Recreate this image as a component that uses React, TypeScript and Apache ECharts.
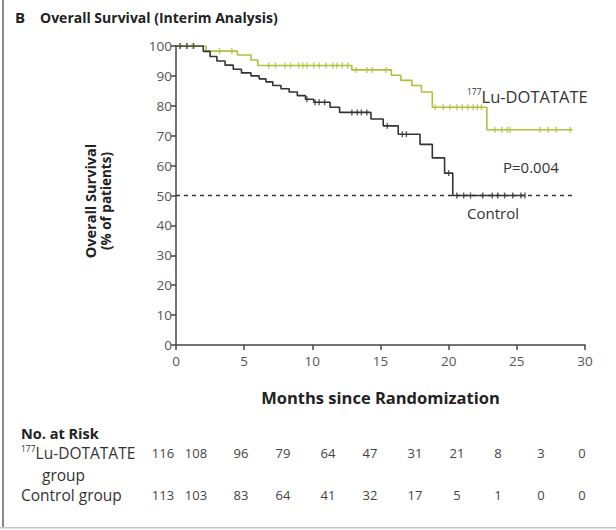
import React, { useEffect, useRef } from 'react';
import * as echarts from 'echarts';

// Kaplan-Meier steps: [month, survival % after the event]
const luSteps: [number, number][] = [
  [0, 100], [2.2, 98.3], [4.5, 97], [5.5, 95.3], [6.0, 93.5], [12.9, 92],
  [15.8, 90.2], [16.5, 88.5], [17.3, 86.8], [18.0, 84.6], [18.8, 79.5],
  [22.8, 72], [29.1, 72],
];
const controlSteps: [number, number][] = [
  [0, 100], [2.0, 98.2], [2.5, 96.5], [3.0, 95], [3.6, 93.6], [4.2, 92.2],
  [4.8, 91], [5.5, 90], [6.1, 89], [6.6, 88], [7.1, 86.8], [7.7, 85.7],
  [8.3, 84.6], [8.9, 83.4], [9.5, 82.2], [10.1, 81.2], [11.3, 79.5],
  [12.0, 77.8], [14.3, 75.6], [15.2, 73.3], [16.3, 70.5], [17.9, 67.1],
  [18.8, 62.6], [19.7, 57.5], [20.3, 50], [25.6, 50],
];
// censoring times (months)
const luCensor = [
  0.3, 0.8, 1.2, 3.2, 4.1, 6.8, 7.3, 8.0, 8.4, 9.0, 9.3, 9.6, 10.1, 10.5, 11.0,
  11.5, 11.8, 12.2, 12.6, 13.2, 14.0, 14.4, 15.4, 19.0, 19.6, 20.1, 20.6, 21.0,
  21.4, 21.8, 22.1, 22.4, 23.4, 23.9, 24.3, 24.5, 26.7, 27.3, 27.9, 28.9,
];
const controlCensor = [
  0.3, 0.8, 1.3, 9.6, 10.2, 10.5, 10.9, 12.9, 13.3, 13.6, 14.0, 15.5, 16.6,
  16.9, 20.0, 20.6, 21.1, 21.6, 22.5, 23.2, 23.6, 24.1, 24.7, 25.3, 25.6,
];
const medianRef: [number, number][] = [[0, 50], [29.1, 50]];

// number at risk
const riskLabelsLu = ['177', 'Lu-DOTATATE', 'group'];
const riskLabelControl = 'Control group';
const luRisk = [116, 108, 96, 79, 64, 47, 31, 21, 8, 3, 0];
const controlRisk = [113, 103, 83, 64, 41, 32, 17, 5, 1, 0, 0];

// layout constants (pixels)
const riskX = [163, 196, 241, 283, 328, 370, 415, 457, 498, 541, 582];

const GREEN = '#a9c23c';
const DARK = '#333333';
const FONT = '"Open Sans"';

function survivalAt(steps: [number, number][], t: number): number {
  let s = steps[0][1];
  for (const [tt, v] of steps) {
    if (tt <= t) s = v;
    else break;
  }
  return s;
}

export default function App() {
  const ref = useRef<HTMLDivElement>(null);
  useEffect(() => {
    if (!ref.current) return;
    const chart = echarts.init(ref.current, undefined, { renderer: 'svg' });
    const censorSymbol = { symbol: 'rect', symbolSize: [1.4, 6] as any };
    const supRich = (size: number) => ({
      s: { fontSize: 8.5, fontFamily: 'Open Sans', verticalAlign: 'top', lineHeight: 19, fill: '#333' },
      n: { fontSize: size, fontFamily: 'Open Sans', lineHeight: 19, fill: '#333' },
    });
    const graphic: any[] = [
      { type: 'rect', shape: { x: 2, y: 0, width: 2, height: 528 }, style: { fill: '#8a8a8a' } },
      { type: 'rect', shape: { x: 0, y: 527, width: 616, height: 1.5 }, style: { fill: '#c4c4c4' } },
      { type: 'text', x: 15, y: 17, style: { text: 'B', font: `bold 15px ${FONT}`, fill: '#222', verticalAlign: 'middle' } },
      { type: 'text', x: 40, y: 17, style: { text: 'Overall Survival (Interim Analysis)', font: `bold 14px ${FONT}`, fill: '#222', verticalAlign: 'middle' } },
      { type: 'text', x: 90, y: 201, rotation: Math.PI / 2, style: { text: 'Overall Survival', font: `bold 14.5px ${FONT}`, fill: '#222', align: 'center', verticalAlign: 'middle' } },
      { type: 'text', x: 106, y: 201, rotation: Math.PI / 2, style: { text: '(% of patients)', font: `bold 13.5px ${FONT}`, fill: '#222', align: 'center', verticalAlign: 'middle' } },
      {
        type: 'text', x: 467, y: 96,
        style: { text: '{s|177}{n|Lu-DOTATATE}', verticalAlign: 'middle', fill: '#333', rich: supRich(16.5) },
      },
      { type: 'text', x: 503, y: 167, style: { text: 'P=0.004', font: `15px ${FONT}`, fill: '#333', verticalAlign: 'middle' } },
      { type: 'text', x: 467, y: 213, style: { text: 'Control', font: `15px ${FONT}`, fill: '#333', verticalAlign: 'middle' } },
      { type: 'text', x: 21, y: 433, style: { text: 'No. at Risk', font: `bold 14.5px ${FONT}`, fill: '#222', verticalAlign: 'middle' } },
      {
        type: 'text', x: 21, y: 453,
        style: { text: `{s|${riskLabelsLu[0]}}{n|${riskLabelsLu[1]}}`, verticalAlign: 'middle', fill: '#333', rich: supRich(15.5) },
      },
      { type: 'text', x: 42, y: 475, style: { text: riskLabelsLu[2], font: `15.5px ${FONT}`, fill: '#333', verticalAlign: 'middle' } },
      { type: 'text', x: 21, y: 495, style: { text: riskLabelControl, font: `15.5px ${FONT}`, fill: '#333', verticalAlign: 'middle' } },
    ];
    luRisk.forEach((v, i) => {
      graphic.push({ type: 'text', x: riskX[i], y: 453, style: { text: String(v), font: `13px ${FONT}`, fill: '#444', align: 'center', verticalAlign: 'middle' } });
    });
    controlRisk.forEach((v, i) => {
      graphic.push({ type: 'text', x: riskX[i], y: 495, style: { text: String(v), font: `13px ${FONT}`, fill: '#444', align: 'center', verticalAlign: 'middle' } });
    });

    chart.setOption({
      animation: false,
      backgroundColor: '#ffffff',
      grid: { left: 176, right: 31, top: 46, bottom: 185, containLabel: false },
      xAxis: {
        type: 'value', min: 0, max: 30, interval: 5,
        name: 'Months since Randomization', nameLocation: 'middle', nameGap: 44,
        nameTextStyle: { fontFamily: 'Open Sans', fontWeight: 'bold', fontSize: 16.5, color: '#222' },
        axisLine: { lineStyle: { color: '#444', width: 1.5 } },
        axisTick: { show: true, length: 5, lineStyle: { color: '#444', width: 1.5 } },
        axisLabel: { fontFamily: 'Open Sans', fontSize: 13.5, color: '#555', margin: 9 },
        splitLine: { show: false },
      },
      yAxis: {
        type: 'value', min: 0, max: 100, interval: 10,
        axisLine: { show: true, lineStyle: { color: '#444', width: 1.5 } },
        axisTick: { show: true, length: 5, lineStyle: { color: '#444', width: 1.5 } },
        axisLabel: { fontFamily: 'Open Sans', fontSize: 13.5, color: '#555', margin: 4 },
        splitLine: { show: false },
      },
      series: [
        {
          type: 'line', data: medianRef, showSymbol: false, silent: true,
          lineStyle: { color: DARK, width: 1.5, type: [4, 4] },
        },
        {
          type: 'line', step: 'end', data: luSteps, showSymbol: false,
          lineStyle: { color: GREEN, width: 1.6 },
        },
        {
          type: 'line', step: 'end', data: controlSteps, showSymbol: false,
          lineStyle: { color: DARK, width: 1.6 },
        },
        {
          type: 'scatter', ...censorSymbol,
          data: luCensor.map((t) => [t, survivalAt(luSteps, t)]),
          itemStyle: { color: GREEN },
        },
        {
          type: 'scatter', ...censorSymbol,
          data: controlCensor.map((t) => [t, survivalAt(controlSteps, t)]),
          itemStyle: { color: DARK },
        },
      ],
      graphic,
    });
    return () => chart.dispose();
  }, []);
  return <div ref={ref} style={{ position: 'fixed', left: 0, top: 0, width: 616, height: 530 }} />;
}
